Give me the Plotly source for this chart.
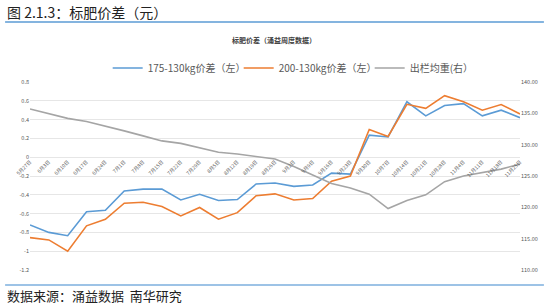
import plotly.graph_objects as go

dates = ["5月27日","6月3日","6月10日","6月17日","6月24日","7月1日","7月8日","7月15日",
         "7月22日","7月29日","8月5日","8月12日","8月19日","8月26日","9月2日","9月9日",
         "9月16日","9月23日","9月30日","10月7日","10月14日","10月21日","10月28日",
         "11月4日","11月11日","11月18日","11月25日"]
spread_175 = [-0.72,-0.80,-0.835,-0.58,-0.565,-0.36,-0.34,-0.34,-0.455,-0.395,-0.46,-0.45,
              -0.285,-0.275,-0.31,-0.295,-0.17,-0.18,0.235,0.215,0.59,0.44,0.55,0.57,0.44,0.50,0.42]
spread_200 = [-0.855,-0.88,-1.0,-0.73,-0.66,-0.49,-0.48,-0.525,-0.625,-0.535,-0.66,-0.59,
              -0.41,-0.39,-0.455,-0.44,-0.255,-0.20,0.295,0.22,0.563,0.52,0.655,0.59,0.50,0.56,0.46]
avg_weight = [135.7,135.0,134.2,133.7,133.0,132.2,131.4,130.6,130.2,129.5,128.8,128.5,
              128.1,127.7,126.5,125.2,123.8,123.1,122.1,119.8,121.1,122.0,124.1,125.0,125.6,126.1,126.9]

left_ticks = [0.8,0.6,0.4,0.2,0,-0.2,-0.4,-0.6,-0.8,-1,-1.2]
left_text = ["0.8","0.6","0.4","0.2","0","-0.2","-0.4","-0.6","-0.8","-1","-1.2"]
right_ticks = [140,135,130,125,120,115,110]
right_text = ["140.00","135.00","130.00","125.00","120.00","115.00","110.00"]

W, H = 550, 305
L, R, T, B = 30, 522, 82, 270

def px(x):
    return (x - L) / (R - L)

def py(y):
    return (B - y) / (B - T)

fig = go.Figure()
fig.add_trace(go.Scatter(x=dates, y=spread_175, mode="lines", name="175-130kg价差（左）",
                         line=dict(color="#5B9BD5", width=1.6)))
fig.add_trace(go.Scatter(x=dates, y=spread_200, mode="lines", name="200-130kg价差（左）",
                         line=dict(color="#ED7D31", width=1.6)))
fig.add_trace(go.Scatter(x=dates, y=avg_weight, mode="lines", name="出栏均重(右）",
                         line=dict(color="#A5A5A5", width=1.6), yaxis="y2"))

zero_pos = 0.8 / 2.0  # fraction from top
fig.update_layout(
    width=W, height=H,
    margin=dict(l=L, r=W - R, t=T, b=H - B),
    paper_bgcolor="white", plot_bgcolor="white",
    font=dict(family="Noto Sans CJK SC, sans-serif", color="#595959"),
    showlegend=True,
    legend=dict(orientation="h", x=px(108), xanchor="left", y=py(68), yanchor="middle",
                font=dict(size=10, color="#595959"), entrywidth=86, entrywidthmode="pixels",
                tracegroupgap=0, bgcolor="rgba(0,0,0,0)"),
    xaxis=dict(type="category", range=[0, len(dates) - 1], anchor="free",
               position=1 - zero_pos, showgrid=False, showline=False, ticks="",
               tickangle=-45, tickfont=dict(size=5, color="#595959"),
               zeroline=False),
    yaxis=dict(range=[-1.2, 0.8], tickvals=left_ticks, ticktext=left_text,
               showgrid=True, gridcolor="#E6E6E6", gridwidth=1, zeroline=False,
               tickfont=dict(size=5.5, color="#595959"), ticks="", showline=False),
    yaxis2=dict(range=[110, 140], tickvals=right_ticks, ticktext=right_text,
                overlaying="y", side="right", showgrid=False, zeroline=False,
                tickfont=dict(size=5.5, color="#595959"), ticks="", showline=False),
)

fig.add_annotation(text="图 2.1.3：标肥价差（元）", xref="paper", yref="paper",
                   x=px(5), y=py(12), xanchor="left", yanchor="middle", showarrow=False,
                   font=dict(size=14, color="#222222"))
fig.add_annotation(text="<b>标肥价差（涌益周度数据）</b>", xref="paper", yref="paper",
                   x=px(275), y=py(40), xanchor="center", yanchor="middle", showarrow=False,
                   font=dict(size=7, color="#404040"))
fig.add_annotation(text="数据来源：涌益数据  南华研究", xref="paper", yref="paper",
                   x=px(5), y=py(295), xanchor="left", yanchor="middle", showarrow=False,
                   font=dict(size=13, color="#222222"))
fig.add_shape(type="line", xref="paper", yref="paper", x0=px(5), x1=px(546),
              y0=py(22), y1=py(22), line=dict(color="#5B9BD5", width=1.5))
fig.add_shape(type="line", xref="paper", yref="paper", x0=px(5), x1=px(546),
              y0=py(285), y1=py(285), line=dict(color="#9DC3E6", width=2))

fig.write_html("out.html")
